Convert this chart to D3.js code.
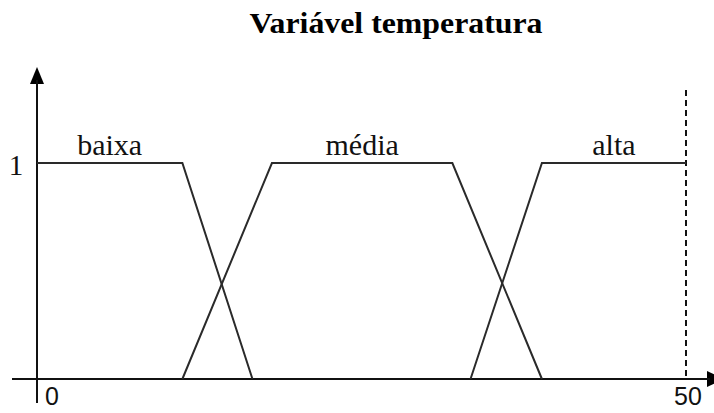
<!DOCTYPE html>
<html lang="pt">
<head>
<meta charset="UTF-8">
<script src="https://cdn.jsdelivr.net/npm/d3@7"></script>
<style>
  body { margin: 0; background: #fff; }
  svg { display: block; }
</style>
</head>
<body>
<script>
  // membership functions of "temperatura"
  var categories = ["baixa", "média", "alta"]
  var baixaX = [0, 11.2, 16.6], baixaY = [1, 1, 0]
  var mediaX = [11.2, 18.1, 32.0, 38.9], mediaY = [0, 1, 1, 0]
  var altaX = [33.4, 38.9, 50], altaY = [0, 1, 1]
  var xTicks = ["0", "50"]
  var yTicks = ["1"]

  var width = 714, height = 413
  var svg = d3.select('body').append('svg').attr('width', width).attr('height', height)

  var x = d3.scaleLinear().domain([0, 50]).range([37, 686])
  var y = d3.scaleLinear().domain([0, 1]).range([379, 163])

  var series = [
    {name: categories[0], xs: baixaX, ys: baixaY},
    {name: categories[1], xs: mediaX, ys: mediaY},
    {name: categories[2], xs: altaX, ys: altaY}
  ]

  svg.append('text')
    .attr('x', 396).attr('y', 33)
    .attr('text-anchor', 'middle')
    .attr('font-family', 'Liberation Serif, serif')
    .attr('font-weight', 'bold')
    .attr('font-size', 30)
    .attr('textLength', 293).attr('lengthAdjust', 'spacingAndGlyphs')
    .text('Variável temperatura')

  // arrow heads
  svg.append('path')
    .attr('d', 'M' + (x(0) - 7) + ',84 L' + x(0) + ',67 L' + (x(0) + 7) + ',84 Z')
    .attr('fill', '#000')
  svg.append('path')
    .attr('d', 'M707,371 L724,' + y(0) + ' L707,387 Z')
    .attr('fill', '#000')

  // axes
  svg.append('line')
    .attr('x1', x(0)).attr('x2', x(0)).attr('y1', 403).attr('y2', 80)
    .attr('stroke', '#111').attr('stroke-width', 2)
  svg.append('line')
    .attr('x1', 12).attr('x2', 710).attr('y1', y(0)).attr('y2', y(0))
    .attr('stroke', '#111').attr('stroke-width', 2)

  // dashed limit at 50
  svg.append('line')
    .attr('x1', x(50)).attr('x2', x(50)).attr('y1', 90).attr('y2', y(0))
    .attr('stroke', '#111').attr('stroke-width', 2)
    .attr('stroke-dasharray', '6,4')

  var line = d3.line().x(function(d){ return x(d[0]) }).y(function(d){ return y(d[1]) })

  svg.selectAll('.mf')
    .data(series)
    .enter()
    .append('path')
      .attr('class', 'mf')
      .attr('d', function(s){ return line(s.xs.map(function(v, i){ return [v, s.ys[i]] })) })
      .attr('fill', 'none')
      .attr('stroke', '#2a2a2a')
      .attr('stroke-width', 2)

  // labels over each plateau
  svg.selectAll('.lbl')
    .data(series)
    .enter()
    .append('text')
      .attr('class', 'lbl')
      .attr('x', function(s){
        var top = s.xs.filter(function(v, i){ return s.ys[i] == 1 })
        return x((top[0] + top[top.length - 1]) / 2)
      })
      .attr('y', 155)
      .attr('text-anchor', 'middle')
      .attr('font-family', 'Liberation Serif, serif')
      .attr('font-size', 30)
      .attr('fill', '#111')
      .text(function(s){ return s.name })

  svg.append('text')
    .attr('x', 16).attr('y', y(1) + 12)
    .attr('text-anchor', 'middle')
    .attr('font-family', 'Liberation Serif, serif')
    .attr('font-size', 29)
    .attr('fill', '#111')
    .text(yTicks[0])

  svg.selectAll('.xt')
    .data(xTicks)
    .enter()
    .append('text')
      .attr('class', 'xt')
      .attr('x', function(d){ return d == '0' ? x(0) + 15 : x(50) + 2 })
      .attr('y', 405)
      .attr('text-anchor', 'middle')
      .attr('font-family', 'Liberation Sans, sans-serif')
      .attr('font-size', 25)
      .attr('fill', '#111')
      .text(function(d){ return d })
</script>
</body>
</html>
